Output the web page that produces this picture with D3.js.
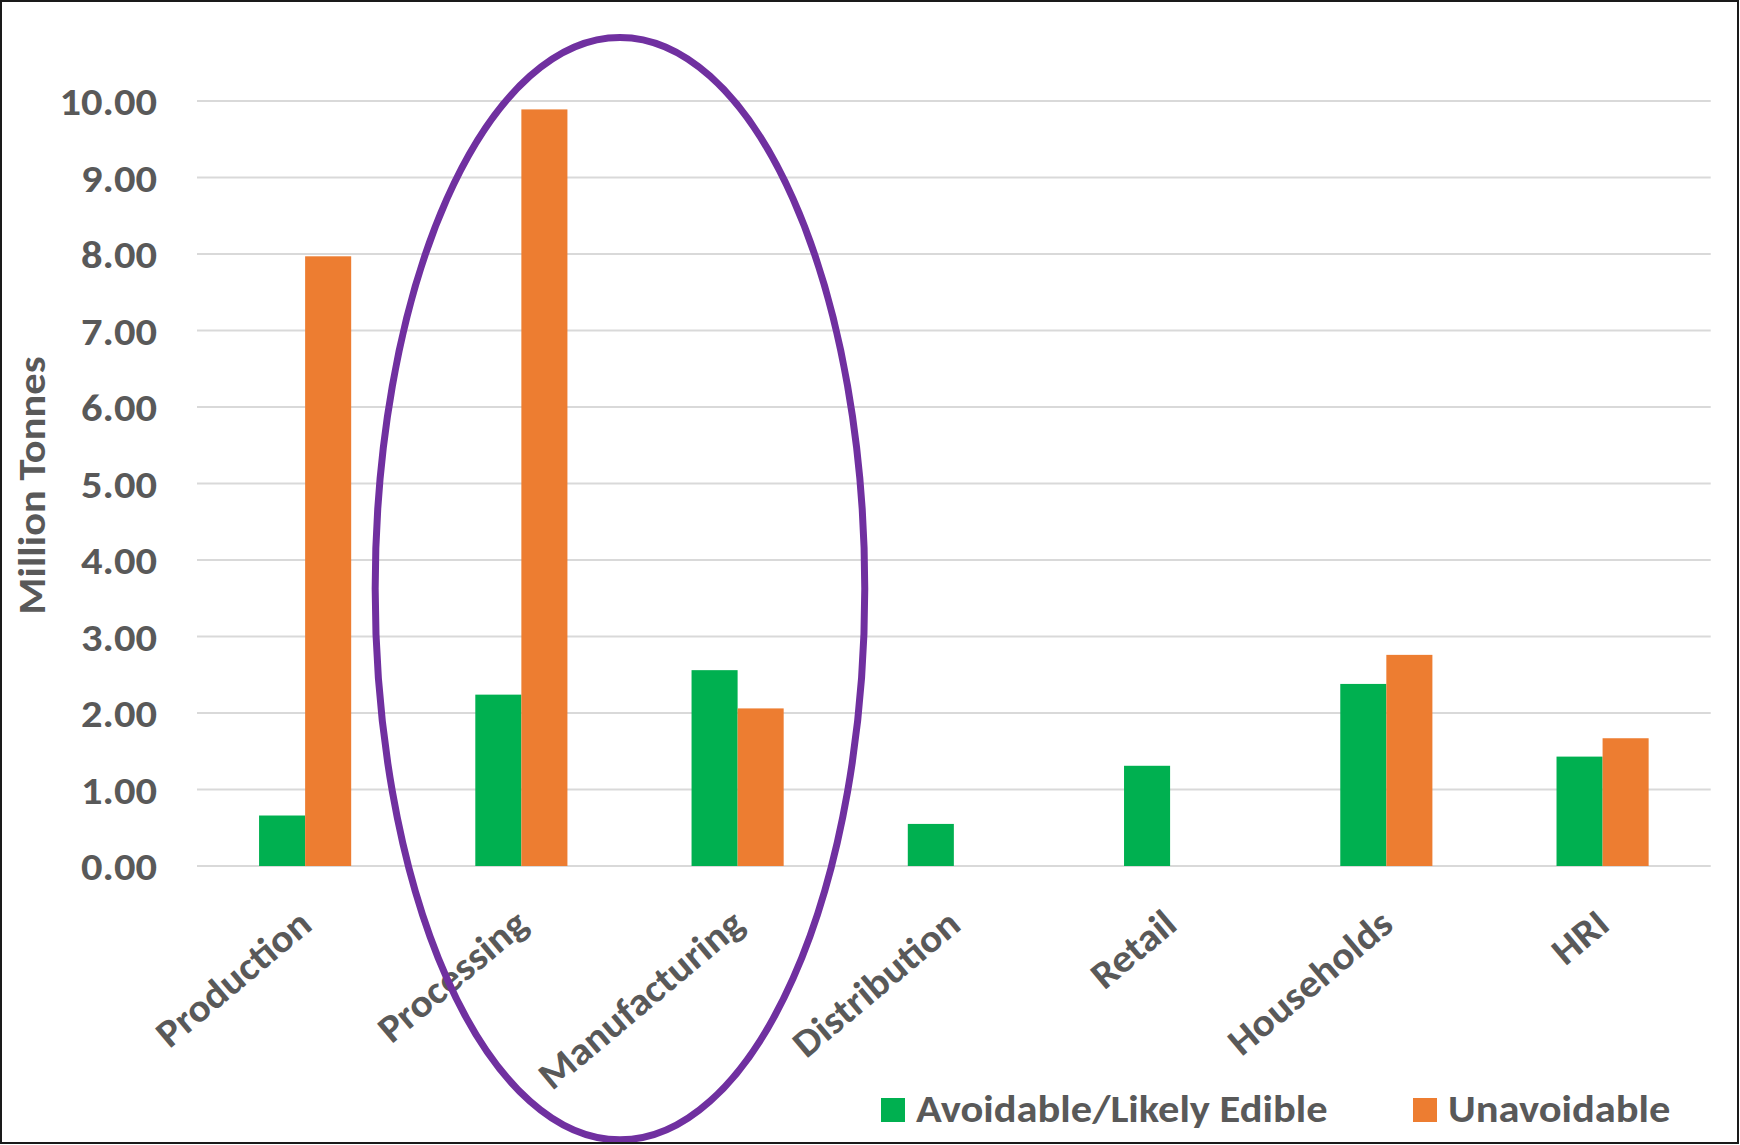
<!DOCTYPE html>
<html>
<head>
<meta charset="utf-8">
<script src="https://cdn.jsdelivr.net/npm/d3@7"></script>
<style>
  html, body { margin: 0; padding: 0; background: #fff; }
  svg { display: block; }
  text { font-family: Carlito, Calibri, Lato, "Open Sans", sans-serif; font-weight: 700; fill: #595959; }
</style>
</head>
<body>
<svg id="chart" width="1740" height="1145"></svg>
<script>
// ---- data ----
const categories = ["Production", "Processing", "Manufacturing", "Distribution", "Retail", "Households", "HRI"];
const seriesNames = ["Avoidable/Likely Edible", "Unavoidable"];
const avoidable   = [0.66, 2.24, 2.56, 0.55, 1.31, 2.38, 1.43];
const unavoidable = [7.97, 9.89, 2.06, null, null, 2.76, 1.67];
const yTicks = [0, 1, 2, 3, 4, 5, 6, 7, 8, 9, 10];
const yTitle = "Million Tonnes";
// annotation ellipse in data units (x in category-band units from left, y in value units)
const highlight = { cxBand: 1.956, rxBand: 1.132, cyValue: 3.625, ryValue: 7.205 };

const colors = { "Avoidable/Likely Edible": "#00B050", "Unavoidable": "#ED7D31" };
const seriesValues = { "Avoidable/Likely Edible": avoidable, "Unavoidable": unavoidable };

const W = 1740, H = 1145;
const FS = 39, SX = 1.09;
const svg = d3.select("#chart");
svg.append("rect").attr("x", 0).attr("y", 0).attr("width", W).attr("height", H).attr("fill", "#fff");

const plot = { left: 197, right: 1710.7, top: 101, bottom: 866 };

const x0 = d3.scaleBand().domain(categories).range([plot.left, plot.right]).padding(0);
const groupW = x0.bandwidth() * 0.426;
const x1 = d3.scaleBand().domain(seriesNames).range([0, groupW]).padding(0);
const y = d3.scaleLinear().domain([0, 10]).range([plot.bottom, plot.top]);

// gridlines
svg.append("g").selectAll("line").data(yTicks).join("line")
  .attr("x1", plot.left).attr("x2", plot.right)
  .attr("y1", d => y(d)).attr("y2", d => y(d))
  .attr("stroke", "#D9D9D9").attr("stroke-width", 2);

// y axis labels
const yAxis = d3.axisLeft(y).tickValues(yTicks).tickFormat(d3.format(".2f")).tickSize(0).tickPadding(0);
const gy = svg.append("g").attr("transform", `translate(${plot.left - 40},0)`).call(yAxis);
gy.select(".domain").remove();
gy.selectAll("text").attr("font-size", FS).attr("font-family", null).attr("dy", "0.35em").attr("x", 0)
  .attr("transform", `scale(${SX},1)`)
  .style("font-family", "Carlito, Calibri, Lato, sans-serif").style("font-weight", 700).attr("fill", "#595959");

// y title
svg.append("text")
  .attr("transform", `translate(45, ${(y(0) + y(10)) / 2 + 2}) rotate(-90) scale(${SX},1)`)
  .attr("text-anchor", "middle").attr("font-size", FS)
  .text(yTitle);

// bars
const groups = svg.append("g").selectAll("g").data(categories).join("g")
  .attr("transform", d => `translate(${x0(d) + x0.bandwidth() / 2 - groupW / 2},0)`);
groups.selectAll("rect")
  .data((c, i) => seriesNames.map(s => ({ s, v: seriesValues[s][i] })).filter(d => d.v != null))
  .join("rect")
  .attr("x", d => x1(d.s)).attr("width", x1.bandwidth())
  .attr("y", d => y(d.v)).attr("height", d => y(0) - y(d.v))
  .attr("fill", d => colors[d.s]);

// x axis labels (rotated)
const xAxis = d3.axisBottom(x0).tickSize(0).tickPadding(0);
const gx = svg.append("g").attr("transform", `translate(0,${plot.bottom})`).call(xAxis);
gx.select(".domain").remove();
gx.selectAll("text")
  .attr("font-size", FS).attr("font-family", null)
  .style("font-family", "Carlito, Calibri, Lato, sans-serif").style("font-weight", 700)
  .attr("fill", "#595959")
  .attr("text-anchor", "end").attr("y", 0).attr("dy", 0)
  .attr("transform", `translate(9,62) rotate(-40) scale(1.06,1)`);

// highlight ellipse
const band = x0.step();
svg.append("ellipse")
  .attr("cx", plot.left + highlight.cxBand * band)
  .attr("cy", y(highlight.cyValue))
  .attr("rx", highlight.rxBand * band)
  .attr("ry", y(0) - y(highlight.ryValue))
  .attr("fill", "none").attr("stroke", "#7030A0").attr("stroke-width", 7);

// legend
const legend = svg.append("g");
const legendX = [881, 1413];
seriesNames.forEach((s, i) => {
  const g = legend.append("g").attr("transform", `translate(${legendX[i]},1098)`);
  g.append("rect").attr("width", 24).attr("height", 24).attr("fill", colors[s]);
  g.append("text").attr("transform", `translate(35,23.5) scale(${SX},1)`).attr("font-size", FS).text(s);
});

// outer frame
svg.append("rect").attr("x", 1).attr("y", 1).attr("width", W - 3).attr("height", H - 3)
  .attr("fill", "none").attr("stroke", "#1a1a1a").attr("stroke-width", 2);
</script>
</body>
</html>
